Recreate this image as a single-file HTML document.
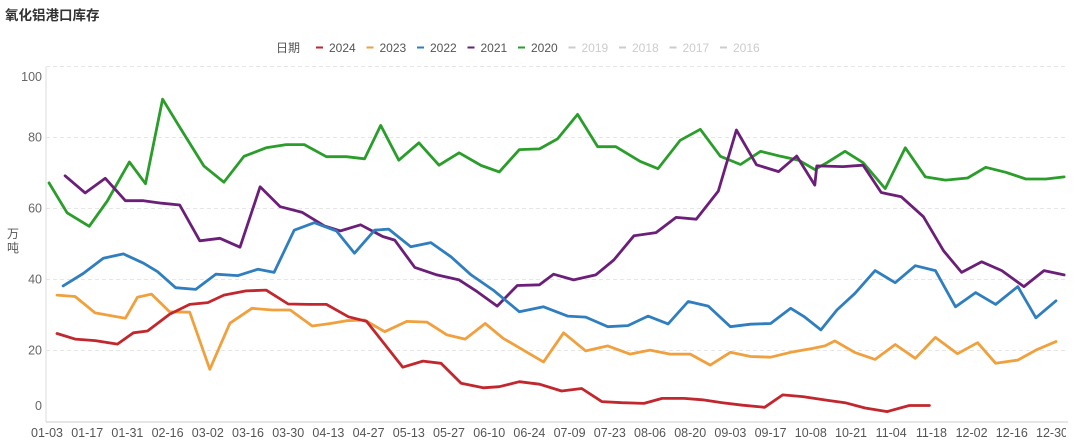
<!DOCTYPE html>
<html><head><meta charset="utf-8"><style>
body{margin:0;background:#fff;width:1080px;height:444px;overflow:hidden;font-family:"Liberation Sans","Noto Sans CJK SC",sans-serif;}
#title{position:absolute;left:5px;top:4px;font-size:13.5px;font-weight:bold;color:#333;}
svg{position:absolute;left:0;top:0;}
</style></head><body>
<div id="title">氧化铝港口库存</div>
<svg id="chart" width="1080" height="444"><defs><clipPath id="xclip"><rect x="0" y="420" width="1066" height="24"/></clipPath></defs></svg>
<script>
const xLabels=["01-03","01-17","01-31","02-16","03-02","03-16","03-30","04-13","04-27","05-13","05-27","06-10","06-24","07-09","07-23","08-06","08-20","09-03","09-17","10-08","10-21","11-04","11-18","12-02","12-16","12-30"];
const yTicks=[0,20,40,60,80,100];
const seriesNames=["2024","2023","2022","2021","2020"];
const fadedNames=["2019","2018","2017","2016"];
const w2024=[0.5,1.4,2.4,3.5,4.3,5.0,6.1,7.1,8.0,8.8,9.9,10.9,12.0,13.0,13.9,15.0,15.9,17.7,18.7,19.6,20.6,21.7,22.5,23.5,24.5,25.6,26.6,27.6,28.6,29.7,30.6,31.7,32.6,33.6,34.6,35.7,36.6,37.6,38.8,39.7,40.7,41.8,42.9,43.9];
const v2024=[24.8,23.2,22.8,21.8,25.0,25.5,30.2,33.0,33.5,35.6,36.8,37.0,33.1,33.0,33.0,29.5,28.2,15.3,17.0,16.4,10.8,9.5,9.8,11.2,10.5,8.6,9.3,5.6,5.3,5.1,6.5,6.5,6.1,5.3,4.6,4.0,7.5,7.0,6.0,5.3,3.8,2.8,4.5,4.5];
const w2023=[0.5,1.4,2.4,3.3,3.9,4.5,5.2,6.1,7.1,8.1,9.1,10.2,11.2,12.1,13.2,14.1,14.9,15.8,16.8,17.9,18.9,19.9,20.8,21.8,22.7,24.7,25.7,26.8,27.9,29.0,30.0,31.0,32.0,33.0,34.0,35.0,36.0,37.0,38.1,38.7,39.2,40.2,41.2,42.2,43.2,44.2,45.3,46.3,47.2,48.3,49.2,50.2];
const v2023=[35.6,35.2,30.6,29.7,29.1,35.0,35.9,30.9,30.8,14.7,27.7,31.9,31.4,31.4,26.9,27.6,28.4,28.6,25.3,28.2,28.0,24.4,23.2,27.6,23.4,16.8,25.0,19.9,21.3,19.0,20.1,19.0,19.0,15.9,19.5,18.3,18.1,19.5,20.6,21.3,22.7,19.4,17.5,21.7,17.8,23.7,19.1,22.2,16.4,17.3,20.1,22.5];
const w2022=[0.8,1.8,2.8,3.8,4.8,5.5,6.4,7.4,8.4,9.5,10.5,11.3,12.3,13.3,14.4,15.3,16.3,17.0,18.1,19.1,20.1,21.1,22.2,23.5,24.7,25.9,26.8,27.9,28.9,29.9,30.9,31.9,32.9,34.0,35.0,36.0,37.0,37.7,38.5,39.3,40.2,41.2,42.2,43.2,44.2,45.2,46.2,47.2,48.3,49.2,50.2];
const v2022=[38.2,41.7,46.0,47.2,44.6,42.2,37.7,37.2,41.5,41.1,42.9,42.0,53.9,56.0,53.7,47.4,53.9,54.2,49.2,50.4,46.4,41.3,37.0,30.9,32.3,29.7,29.4,26.7,27.0,29.7,27.5,33.8,32.5,26.7,27.4,27.6,31.9,29.4,25.8,31.4,36.1,42.5,39.1,43.9,42.5,32.3,36.3,33.0,38.0,29.2,34.0];
const w2021=[0.9,1.9,2.9,3.9,4.8,5.7,6.6,7.6,8.6,9.6,10.6,11.6,12.7,13.8,14.6,15.6,16.7,17.3,18.3,19.4,20.5,21.4,22.4,23.4,24.5,25.2,26.2,27.3,28.2,29.2,30.3,31.3,32.3,33.4,34.3,35.3,36.4,37.3,38.2,38.3,39.6,40.6,41.5,42.5,43.6,44.6,45.5,46.5,47.5,48.6,49.6,50.6];
const v2021=[69.2,64.4,68.5,62.2,62.2,61.5,61.0,50.9,51.6,49.1,66.1,60.5,58.9,55.1,53.7,55.4,52.1,51.1,43.4,41.3,39.9,36.6,32.5,38.3,38.5,41.5,39.9,41.3,45.5,52.3,53.2,57.5,57.0,64.9,82.1,72.3,70.4,74.8,66.6,72.0,71.8,72.2,64.5,63.3,57.7,48.1,42.0,45.0,42.5,38.0,42.5,41.3];
const w2020=[0.1,1.0,2.1,3.0,4.1,4.9,5.75,6.7,7.8,8.8,9.8,10.9,11.9,12.8,13.9,14.9,15.8,16.6,17.5,18.5,19.5,20.5,21.6,22.5,23.5,24.5,25.4,26.4,27.4,28.3,29.5,30.4,31.5,32.5,33.5,34.5,35.5,36.5,37.4,38.2,38.8,39.7,40.6,41.7,42.7,43.7,44.7,45.8,46.7,47.7,48.7,49.7,50.6];
const v2020=[67.2,58.8,55.0,62.1,73.1,67.0,90.8,82.0,72.0,67.4,74.7,77.1,78.0,78.0,74.6,74.6,74.0,83.4,73.6,78.5,72.2,75.7,72.1,70.3,76.6,76.8,79.6,86.5,77.4,77.4,73.3,71.2,79.2,82.3,74.7,72.4,76.1,74.7,73.6,71.0,72.9,76.1,72.9,65.6,77.1,68.9,68.0,68.6,71.6,70.2,68.3,68.3,68.9];

const colors=["#c1272d","#f0a03c","#2f7ebf","#6b1f78","#2a9d2a"];
const NS="http://www.w3.org/2000/svg";
const svg=document.getElementById('chart');
const X0=47,XS=20.1,Y0=421.5,YS=3.55,LEFT=46,RIGHT=1068,TOP=67;
const xs=w=>X0+XS*w, ys=v=>Y0-YS*v;
function mk(t,a,p){const e=document.createElementNS(NS,t);for(const k in a)e.setAttribute(k,a[k]);(p||svg).appendChild(e);return e;}

const grid=mk('g',{});


yTicks.forEach(t=>{
  if(t>0){const l=mk('line',{x1:LEFT,x2:RIGHT,y1:ys(t),y2:ys(t),stroke:'#e6e6e6','stroke-dasharray':'4,3'},grid);
  
  }
  const ly=t===0?410:(t===100?81:ys(t)+4);
  const tx=mk('text',{x:42,y:ly,'text-anchor':'end','font-size':12.5,fill:'#666'});
  tx.textContent=t;
  
  
});
const ax=mk('line',{x1:LEFT,x2:LEFT,y1:TOP,y2:422,stroke:'#ddd'});


const bx=mk('line',{x1:LEFT,x2:RIGHT,y1:422,y2:422,stroke:'#ccc'});


const xg=mk('g',{'clip-path':'url(#xclip)'});


xLabels.forEach((lab,i)=>{
  const tx=mk('text',{x:xs(i*2),y:437,'text-anchor':'middle','font-size':12.5,fill:'#555'},xg);
  tx.textContent=lab;
  
  
});
const yt=mk('text',{x:13,y:238,'text-anchor':'middle','font-size':12,fill:'#555'});
yt.innerHTML='<tspan x="13" dy="0">万</tspan><tspan x="13" dy="14">吨</tspan>';



const W=[w2024,w2023,w2022,w2021,w2020],V=[v2024,v2023,v2022,v2021,v2020];
[4,3,2,1,0].forEach(k=>{
  const d=W[k].map((w,i)=>(i?'L':'M')+xs(w).toFixed(1)+','+ys(V[k][i]).toFixed(1)).join('');
  const p=mk('path',{d:d,fill:'none',stroke:colors[k],'stroke-width':2.8,'stroke-linejoin':'round','stroke-linecap':'round'});
  
  
});

const lg=mk('g',{});


const lt=mk('text',{x:276,y:52,'font-size':12,fill:'#555'},lg);
lt.textContent='日期';


const allNames=seriesNames.concat(fadedNames);
allNames.forEach((n,i)=>{
  const x=316+i*50.5, c=i<5?colors[i]:'#ccc', tc=i<5?'#555':'#ccc';
  const g=mk('g',{},lg);
  
  
  mk('line',{x1:x,x2:x+7,y1:47.5,y2:47.5,stroke:c,'stroke-width':2},g);
  const t=mk('text',{x:x+13,y:52,'font-size':12,fill:tc},g);
  t.textContent=n;
});
</script>
</body></html>
